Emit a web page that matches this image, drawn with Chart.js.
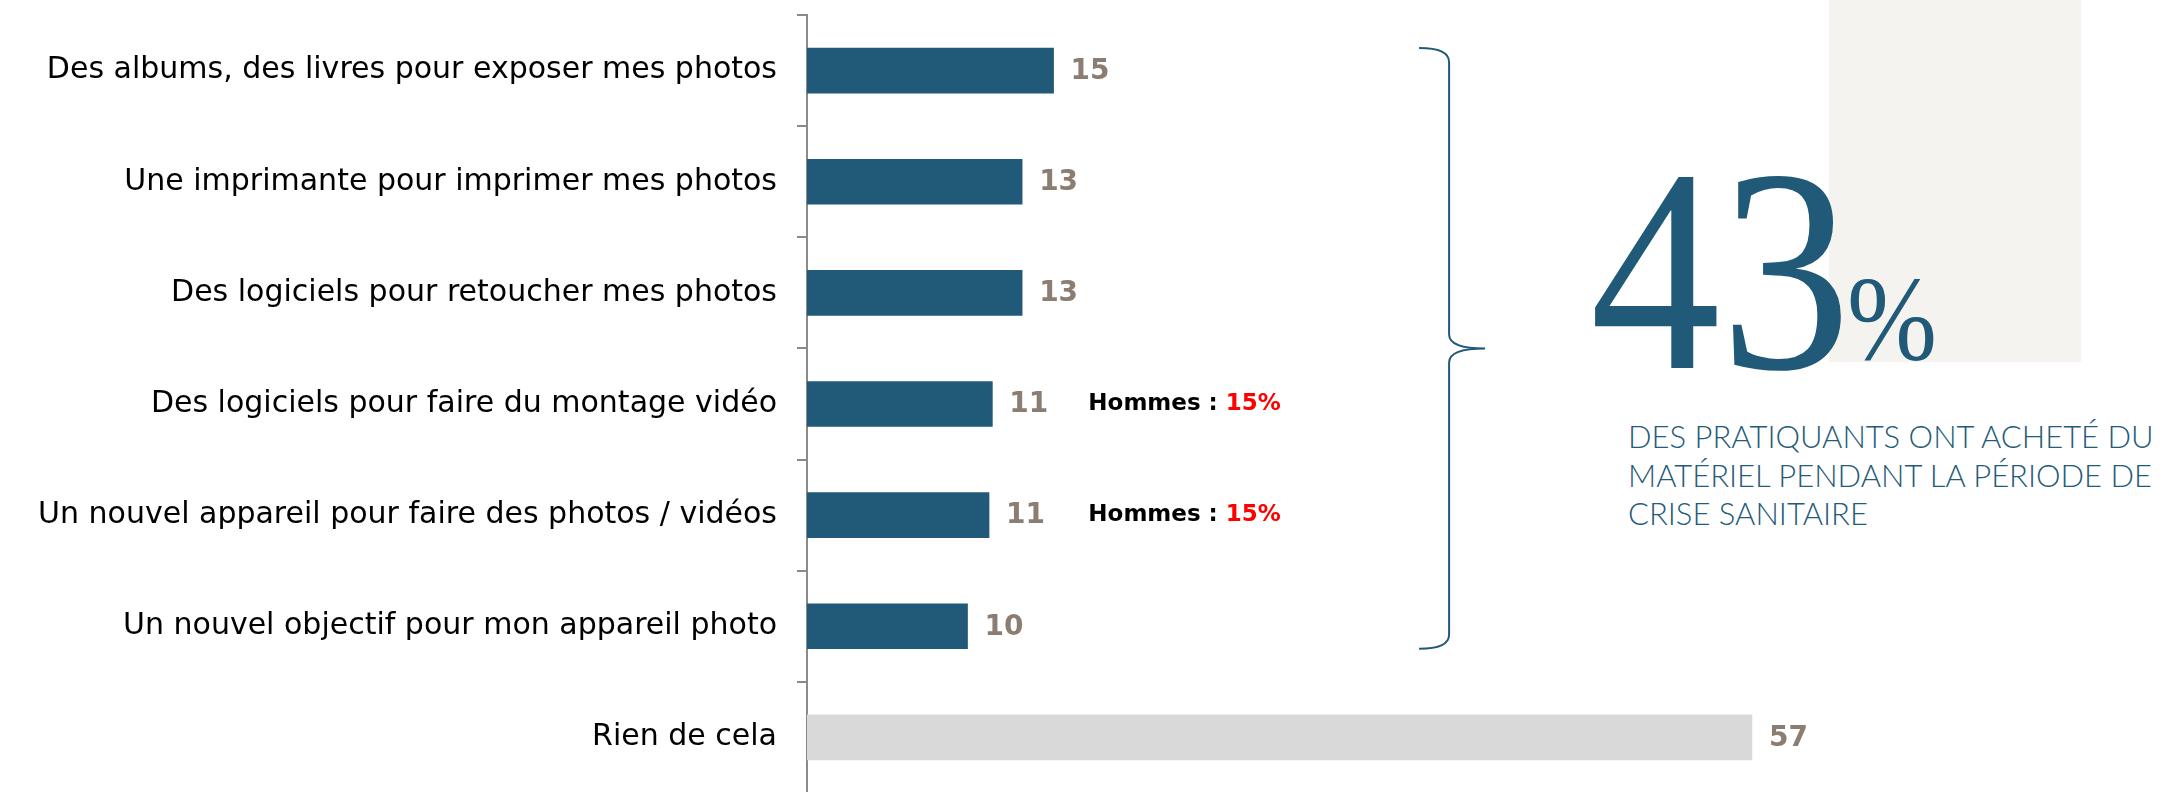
<!DOCTYPE html>
<html>
<head>
<meta charset="utf-8">
<script src="https://cdn.jsdelivr.net/npm/chart.js@4.4.1/dist/chart.umd.min.js"></script>
<style>
  html, body { margin: 0; padding: 0; background: #fff; overflow: hidden; }
  #wrap { position: relative; width: 2164px; height: 792px; }
  #panel { position: absolute; left: 1829px; top: 0; width: 252px; height: 362px; background: #f4f3ef; }
  #big { position: absolute; left: 1590px; top: 126px; font-family: "Liberation Serif", serif; font-size: 290px; line-height: 1; color: #215a78; transform: scaleX(0.9); transform-origin: left top; white-space: nowrap; }
  #unit { position: absolute; left: 1847px; top: 259px; font-family: "Liberation Serif", serif; font-size: 120px; line-height: 1; color: #215a78; transform: scaleX(0.9); transform-origin: left top; }
  #caption { position: absolute; left: 1628px; top: 417px; font-family: "Lato", sans-serif; font-weight: 300; font-size: 31px; line-height: 38.5px; color: #245b79; white-space: nowrap; }
  canvas { position: absolute; left: 0; top: 0; }
</style>
</head>
<body>
<div id="wrap">
  <div id="panel"></div>
  <div id="big"></div>
  <div id="unit"></div>
  <div id="caption"></div>
  <canvas id="chart" width="2164" height="800"></canvas>
</div>
<script>
document.addEventListener('DOMContentLoaded', init)

// answers, top to bottom
const categories = [
    'Des albums, des livres pour exposer mes photos',
    'Une imprimante pour imprimer mes photos',
    'Des logiciels pour retoucher mes photos',
    'Des logiciels pour faire du montage vidéo',
    'Un nouvel appareil pour faire des photos / vidéos',
    'Un nouvel objectif pour mon appareil photo',
    'Rien de cela'
]
// % of practitioners
const values = [14.9, 13, 13, 11.2, 11, 9.7, 57.1]

// side notes next to some bars
const noteCategories = [3, 4]
const noteLabels = ['Hommes : ', 'Hommes : ']
const noteValues = ['15%', '15%']

// the brace groups the bought-something answers
const braceFrom = 0
const braceTo = 5

const headline = '43'
const headlineUnit = '%'
const captionLines = [
    'DES PRATIQUANTS ONT ACHETÉ DU',
    'MATÉRIEL PENDANT LA PÉRIODE DE',
    'CRISE SANITAIRE'
]

const BLUE = '#215a78'
const GREY = '#d9d9d9'

const valueLabels = {
    id: 'valueLabels',
    afterDatasetsDraw(chart) {
        const ctx = chart.ctx
        const meta = chart.getDatasetMeta(0)
        const xs = chart.scales.x
        ctx.save()
        ctx.textBaseline = 'middle'
        ctx.textAlign = 'left'
        meta.data.forEach((bar, i) => {
            ctx.font = 'bold 28px "DejaVu Sans"'
            ctx.fillStyle = '#8b7d72'
            ctx.fillText(String(Math.round(values[i])), bar.x + 17, bar.y + 1)
        })
        // notes
        noteCategories.forEach((c, k) => {
            const y = meta.data[c].y
            const x = xs.getPixelForValue(17)
            ctx.font = 'bold 23px "DejaVu Sans"'
            ctx.fillStyle = '#000'
            ctx.fillText(noteLabels[k], x, y)
            const w = ctx.measureText(noteLabels[k]).width
            ctx.fillStyle = '#ff0000'
            ctx.fillText(noteValues[k], x + w, y)
        })
        // brace
        const a = meta.data[braceFrom], b = meta.data[braceTo]
        const y0 = a.y - a.height / 2
        const y1 = b.y + b.height / 2
        const ym = (y0 + y1) / 2
        const x = xs.getPixelForValue(38.8)
        ctx.strokeStyle = BLUE
        ctx.lineWidth = 2
        ctx.beginPath()
        ctx.moveTo(x - 30, y0)
        ctx.quadraticCurveTo(x, y0, x, y0 + 14)
        ctx.lineTo(x, ym - 14)
        ctx.quadraticCurveTo(x, ym, x + 36, ym)
        ctx.moveTo(x + 36, ym)
        ctx.quadraticCurveTo(x, ym, x, ym + 14)
        ctx.lineTo(x, y1 - 14)
        ctx.quadraticCurveTo(x, y1, x - 30, y1)
        ctx.stroke()
        ctx.restore()
    }
}

function init() {
    document.querySelector('#big').textContent = headline
    document.querySelector('#unit').textContent = headlineUnit
    document.querySelector('#caption').innerHTML = captionLines.join('<br>')

    new Chart('chart', {
        type: 'bar',
        data: {
            labels: categories,
            datasets: [{
                data: values,
                backgroundColor: ctx => ctx.dataIndex === categories.length - 1 ? GREY : BLUE,
                barThickness: 45
            }]
        },
        options: {
            indexAxis: 'y',
            responsive: false,
            devicePixelRatio: 1,
            animation: false,
            layout: { padding: { top: 15, bottom: 7, left: 0, right: 0 } },
            plugins: {
                legend: { display: false },
                tooltip: { enabled: false }
            },
            scales: {
                x: { display: false, min: 0, max: 82 },
                y: {
                    afterFit: s => {
                        s.width = 807
                        s.paddingTop = 0
                        s.paddingBottom = 0
                    },
                    grid: { drawOnChartArea: false, drawTicks: true, tickLength: 10, color: '#8a8a8a', lineWidth: 2, offset: true },
                    border: { color: '#8a8a8a', width: 2 },
                    ticks: { color: '#000', padding: 20, font: { family: 'DejaVu Sans', size: 30 } }
                }
            }
        },
        plugins: [valueLabels]
    })
}
</script>
</body>
</html>
